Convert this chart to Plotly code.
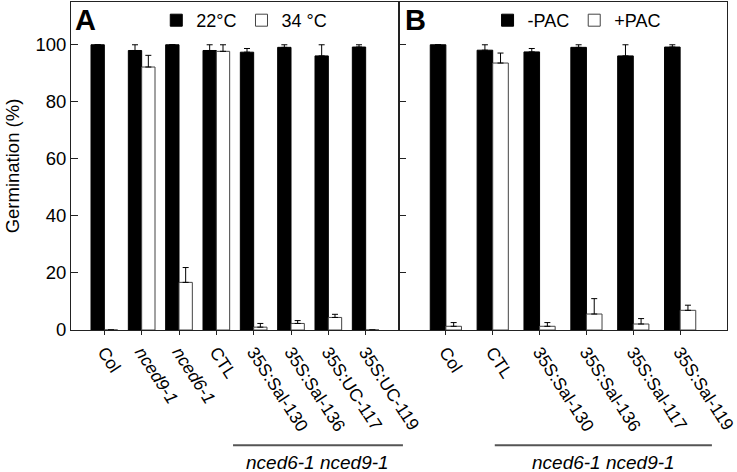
import plotly.graph_objects as go

# ---- data ----
cats_a = ["Col", "nced9-1", "nced6-1", "CTL", "35S:Sal-130", "35S:Sal-136", "35S:UC-117", "35S:UC-119"]
ticks_a = ["Col", "<i>nced9-1</i>", "<i>nced6-1</i>", "CTL", "35S:Sal-130", "35S:Sal-136", "35S:UC-117", "35S:UC-119"]
t22 = [100, 98.0, 100, 98.0, 97.4, 99.1, 96.1, 99.2]
t22_err = [0, 2.0, 0, 2.0, 1.3, 0.9, 3.9, 0.8]
t34 = [0, 92.2, 16.7, 97.7, 1.0, 2.3, 4.4, 0]
t34_err = [0, 4.1, 5.2, 2.3, 1.3, 1.0, 1.1, 0]

cats_b = ["Col", "CTL", "35S:Sal-130", "35S:Sal-136", "35S:Sal-117", "35S:Sal-119"]
ticks_b = cats_b
nopac = [100, 98.1, 97.5, 99.1, 96.1, 99.2]
nopac_err = [0, 1.9, 1.2, 0.9, 3.9, 0.8]
pac = [1.3, 93.6, 1.3, 5.6, 2.1, 6.9]
pac_err = [1.3, 3.5, 1.3, 5.4, 1.9, 1.8]

yticks = [0, 20, 40, 60, 80, 100]

FONT = "Liberation Sans, Arial, sans-serif"
wa = 0.357
wb = 0.333

def err(v):
    return dict(type="data", symmetric=False, array=v, arrayminus=[0] * len(v),
                color="black", thickness=1, width=3)

fig = go.Figure()
fig.add_bar(x=cats_a, y=t22, name="22°C", width=wa, offset=-wa,
            marker=dict(color="black", line=dict(color="black", width=1)),
            error_y=err(t22_err), xaxis="x", yaxis="y", legend="legend")
fig.add_bar(x=cats_a, y=t34, name="34 °C", width=wa, offset=0,
            marker=dict(color="white", line=dict(color="#444", width=1)),
            error_y=err(t34_err), xaxis="x", yaxis="y", legend="legend")
fig.add_bar(x=cats_b, y=nopac, name="-PAC", width=wb, offset=-wb,
            marker=dict(color="black", line=dict(color="black", width=1)),
            error_y=err(nopac_err), xaxis="x2", yaxis="y2", legend="legend2")
fig.add_bar(x=cats_b, y=pac, name="+PAC", width=wb, offset=0,
            marker=dict(color="white", line=dict(color="#444", width=1)),
            error_y=err(pac_err), xaxis="x2", yaxis="y2", legend="legend2")

axis_common = dict(showline=True, linecolor="#222", linewidth=1, mirror=True,
                   showgrid=False, zeroline=False, automargin=False)

fig.update_layout(
    template="none",
    width=737, height=472,
    margin=dict(l=71, r=10, t=2, b=142, pad=0),
    plot_bgcolor="white", paper_bgcolor="white",
    font=dict(family=FONT, size=17, color="black"),
    barmode="group",
    showlegend=True,
    xaxis=dict(domain=[0, 0.5], anchor="y", type="category",
               categoryorder="array", categoryarray=cats_a,
               tickvals=cats_a, ticktext=ticks_a, tickangle=57,
               tickfont=dict(size=17.5),
               ticks="outside", ticklen=4, tickcolor="#222",
               range=[-0.893, 7.893], **axis_common),
    yaxis=dict(domain=[0, 1], anchor="x", range=[0, 115], tickvals=yticks,
               ticks="inside", ticklen=7, tickcolor="#222",
               tickfont=dict(size=18.5),
               title=dict(text="Germination (%)", font=dict(size=18.5), standoff=10),
               **axis_common),
    xaxis2=dict(domain=[0.5, 1], anchor="y2", type="category",
                categoryorder="array", categoryarray=cats_b,
                tickvals=cats_b, ticktext=ticks_b, tickangle=57,
                tickfont=dict(size=17.5),
                ticks="outside", ticklen=4, tickcolor="#222",
                range=[-1, 6], **axis_common),
    yaxis2=dict(domain=[0, 1], anchor="x2", range=[0, 115], tickvals=yticks,
                ticks="inside", ticklen=7, tickcolor="#222",
                showticklabels=False, **axis_common),
    legend=dict(orientation="h", x=0.13, y=1.0, xanchor="left", yanchor="top",
                bgcolor="rgba(0,0,0,0)", font=dict(size=18), itemwidth=30,
                tracegroupgap=0),
    legend2=dict(orientation="h", x=0.635, y=1.0, xanchor="left", yanchor="top",
                 bgcolor="rgba(0,0,0,0)", font=dict(size=18), itemwidth=30,
                 tracegroupgap=0),
)

# panel letters
fig.add_annotation(text="<b>A</b>", xref="paper", yref="paper", x=0.003, y=1.0,
                   xanchor="left", yanchor="top", showarrow=False,
                   font=dict(size=29, family=FONT))
fig.add_annotation(text="<b>B</b>", xref="paper", yref="paper", x=0.506, y=1.0,
                   xanchor="left", yanchor="top", showarrow=False,
                   font=dict(size=29, family=FONT))

# genotype bracket lines and labels
for x0, x1 in [(0.247, 0.506), (0.646, 0.977)]:
    fig.add_shape(type="line", xref="paper", yref="paper", x0=x0, x1=x1,
                  y0=-0.351, y1=-0.351, line=dict(color="#555", width=2))
    fig.add_annotation(text="<i>nced6-1 nced9-1</i>", xref="paper", yref="paper",
                       x=(x0 + x1) / 2, y=-0.403, xanchor="center", yanchor="middle",
                       showarrow=False, font=dict(size=19, family=FONT))

fig.write_html("out.html", config={"displayModeBar": False},
               post_script="document.body.style.margin='0';document.body.style.padding='0';")
